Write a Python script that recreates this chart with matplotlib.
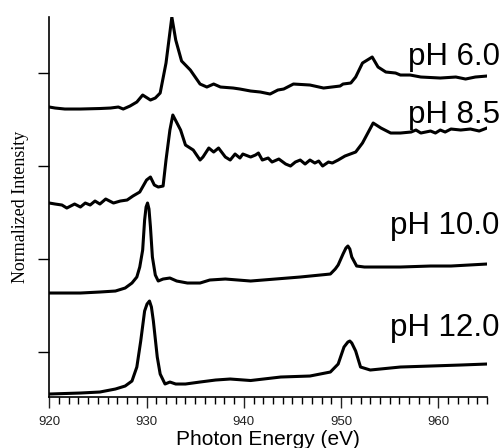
import numpy as np
import matplotlib
matplotlib.use("Agg")
import matplotlib.pyplot as plt
from matplotlib.ticker import MultipleLocator

# Stacked XAS spectra (offsets included)
e_ph6 = [920.0, 920.6, 921.6, 923.2, 925.2, 926.3, 927.1, 927.6, 928.3, 929.0,
         929.6, 930.4, 930.9, 931.4, 932.0, 932.6, 933.0, 933.6, 934.5, 935.5,
         936.2, 936.9, 937.6, 938.9, 939.6, 940.7, 941.7, 942.7, 943.5, 944.1,
         945.1, 946.8, 948.2, 949.9, 950.2, 951.0, 951.5, 952.2, 953.2, 953.8,
         954.6, 955.6, 956.1, 957.1, 958.2, 960.2, 961.8, 962.8, 963.8, 965.0]
i_ph6 = [290, 289, 288, 288, 288.5, 289, 290, 288, 291, 295,
         302, 297, 299, 304, 334, 380, 357, 336, 327, 313,
         310, 313, 310, 309, 308, 306, 305, 303, 307, 308,
         313, 312, 309, 311, 313, 314, 320, 334, 340, 330,
         325, 324, 322, 322, 320, 319, 320, 318, 320, 321]

e_ph85 = [920.0, 920.6, 921.3, 921.8, 922.6, 923.2, 923.7, 924.2, 924.7, 925.2,
          925.8, 926.6, 927.3, 928.0, 928.6, 929.3, 930.0, 930.4, 930.8, 931.2,
          931.7, 932.0, 932.4, 932.7, 933.5, 934.0, 934.8, 935.5, 935.8, 936.4,
          936.9, 937.4, 938.1, 938.6, 939.1, 939.6, 939.9, 940.7, 941.2, 941.5,
          941.9, 942.5, 942.9, 943.6, 944.3, 944.8, 945.3, 945.8, 946.3, 946.8,
          947.3, 947.7, 948.1, 948.7, 949.1, 949.7, 950.4, 951.5, 952.2, 953.3,
          954.1, 955.1, 956.1, 957.2, 957.7, 958.2, 959.2, 959.7, 960.2, 960.7,
          961.3, 962.3, 963.3, 964.2, 965.0]
i_ph85 = [194, 193, 192, 189, 193, 190, 194, 192, 196, 193,
          198, 194, 196, 197, 201, 205, 217, 220, 212, 210,
          211, 237, 267, 282, 267, 252, 247, 237, 240, 249,
          245, 249, 240, 237, 243, 239, 243, 240, 242, 244,
          237, 239, 235, 238, 233, 231, 235, 237, 233, 237,
          234, 236, 231, 235, 234, 237, 241, 245, 254, 274,
          269, 264, 264, 265, 267, 264, 266, 264, 267, 265,
          268, 267, 268, 266, 269]

e_ph10 = [920.0, 923.2, 925.2, 926.8, 927.8, 928.5, 929.0, 929.3, 929.6, 929.8,
          929.95, 930.1, 930.25, 930.4, 930.6, 930.9, 931.2, 931.7, 932.4, 933.1,
          934.2, 935.5, 936.5, 938.1, 940.7, 945.8, 948.9, 949.4, 949.7, 950.2,
          950.5, 950.7, 950.9, 951.1, 951.6, 952.4, 956.1, 959.2, 961.3, 965.0]
i_ph10 = [104, 104, 105, 106, 109, 114, 120, 130, 147, 177,
          190, 194, 188, 170, 140, 122, 116, 118, 119, 116,
          114, 114, 117, 118, 116, 120, 123, 128, 132, 143,
          149, 151, 148, 140, 131, 130, 130, 131, 131, 133]

e_ph12 = [920.0, 923.2, 925.2, 926.8, 927.8, 928.5, 929.0, 929.4, 929.8, 930.05,
          930.3, 930.5, 930.7, 931.1, 931.4, 931.9, 932.4, 933.0, 934.0, 935.5,
          937.1, 938.6, 940.7, 943.8, 946.8, 948.9, 949.7, 950.3, 950.7, 950.9,
          951.1, 951.5, 952.0, 953.0, 956.1, 959.2, 962.3, 965.0]
i_ph12 = [3, 4, 5, 8, 11, 16, 30, 56, 86, 93,
          96, 90, 76, 40, 23, 13, 15, 13, 13, 15,
          17, 18, 16.5, 20, 21, 25, 33, 50, 55, 56,
          54, 46, 30, 27, 30, 31, 32, 33]

labels = ["pH 6.0", "pH 8.5", "pH 10.0", "pH 12.0"]
label_y = [332, 274, 163, 61]

fig = plt.figure(figsize=(5.01, 4.48), dpi=100)
ax = fig.add_axes([0.0984, 0.1138, 0.8736, 0.8482])

for e, i in [(e_ph6, i_ph6), (e_ph85, i_ph85), (e_ph10, i_ph10), (e_ph12, i_ph12)]:
    ax.plot(e, i, color="black", lw=2.2, solid_joinstyle="round")

for lab, y in zip(labels, label_y):
    ax.text(966.3, y, lab, ha="right", va="baseline", fontsize=22.5,
            family="Liberation Sans", clip_on=False)

ax.set_xlim(920, 965)
ax.set_ylim(0, 380)
ax.xaxis.set_major_locator(MultipleLocator(10))
ax.xaxis.set_minor_locator(MultipleLocator(1))
ax.set_yticks([45, 138, 231, 324])
ax.set_yticklabels([])
ax.tick_params(axis="x", which="major", length=8, width=1, direction="out",
               labelsize=9.5, pad=6, colors="#222222")
ax.tick_params(axis="x", which="minor", length=5, width=1, direction="out")
ax.tick_params(axis="y", length=8, width=1, direction="out")
for s in ["top", "right"]:
    ax.spines[s].set_visible(False)
for s in ["left", "bottom"]:
    ax.spines[s].set_linewidth(1.2)
for t in ax.get_xticklabels():
    t.set_family("Liberation Sans")

ax.set_xlabel("Photon Energy (eV)", fontsize=15, family="Liberation Sans", labelpad=1)
ax.set_ylabel("Normalized Intensity", fontsize=13, family="Liberation Serif", labelpad=3)

fig.savefig("out.png", dpi=100)
